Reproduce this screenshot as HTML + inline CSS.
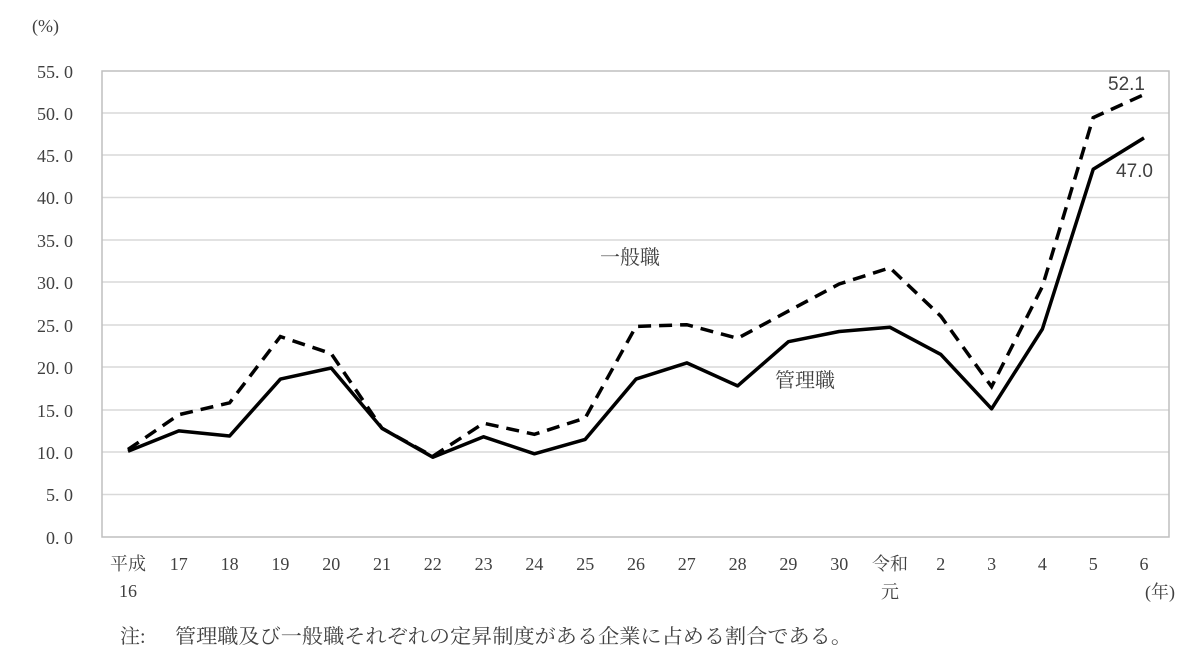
<!DOCTYPE html>
<html><head><meta charset="utf-8"><style>
body{margin:0;background:#fff;}
svg{display:block;}
.t{font-family:"Liberation Serif","Noto Serif CJK SC","Noto Sans CJK JP",serif;font-size:18px;fill:#404040;}
.c{font-family:"Liberation Serif","Noto Serif CJK SC","Noto Sans CJK JP",serif;font-size:20px;fill:#404040;}
.s{font-family:"Liberation Sans","Noto Sans CJK JP",sans-serif;font-size:19px;fill:#404040;}
</style></head><body>
<svg width="1201" height="666" viewBox="0 0 1201 666">
<g stroke="#d9d9d9" stroke-width="1.5">
<line x1="102" y1="113" x2="1169" y2="113"/><line x1="102" y1="155" x2="1169" y2="155"/>
<line x1="102" y1="197.5" x2="1169" y2="197.5"/><line x1="102" y1="240" x2="1169" y2="240"/>
<line x1="102" y1="282" x2="1169" y2="282"/><line x1="102" y1="325" x2="1169" y2="325"/>
<line x1="102" y1="367" x2="1169" y2="367"/><line x1="102" y1="410" x2="1169" y2="410"/>
<line x1="102" y1="452" x2="1169" y2="452"/><line x1="102" y1="494.5" x2="1169" y2="494.5"/>
</g>
<rect x="102" y="71" width="1067" height="466" fill="none" stroke="#bfbfbf" stroke-width="1.5"/>
<g class="t" text-anchor="end">
<text x="73" y="78">55. 0</text><text x="73" y="120">50. 0</text><text x="73" y="162">45. 0</text>
<text x="73" y="204">40. 0</text><text x="73" y="247">35. 0</text><text x="73" y="289">30. 0</text>
<text x="73" y="332">25. 0</text><text x="73" y="374">20. 0</text><text x="73" y="417">15. 0</text>
<text x="73" y="459">10. 0</text><text x="73" y="501">5. 0</text><text x="73" y="544">0. 0</text>
</g>
<text class="t" x="32" y="32">(%)</text>
<g class="t" text-anchor="middle">
<text x="128" y="570">平成</text><text x="128" y="597">16</text>
<text x="178.8" y="570">17</text><text x="229.6" y="570">18</text><text x="280.4" y="570">19</text>
<text x="331.2" y="570">20</text><text x="382" y="570">21</text><text x="432.8" y="570">22</text>
<text x="483.6" y="570">23</text><text x="534.4" y="570">24</text><text x="585.2" y="570">25</text>
<text x="636" y="570">26</text><text x="686.8" y="570">27</text><text x="737.6" y="570">28</text>
<text x="788.4" y="570">29</text><text x="839.2" y="570">30</text>
<text x="890" y="570">令和</text><text x="890" y="598">元</text>
<text x="940.8" y="570">2</text><text x="991.6" y="570">3</text><text x="1042.4" y="570">4</text>
<text x="1093.2" y="570">5</text><text x="1144" y="570">6</text>
<text x="1160" y="598">(年)</text>
</g>
<polyline fill="none" stroke="#000" stroke-width="3.5" stroke-linejoin="round" points="128,451.2 178.8,430.9 229.6,436 280.4,379.1 331.2,368 382,428.3 432.8,457.2 483.6,436.8 534.4,453.8 585.2,439.4 636,379.1 686.8,362.9 737.6,385.9 788.4,341.7 839.2,331.5 890,327.3 940.8,354.4 991.6,408.8 1042.4,329 1093.2,169.3 1144,137.9"/>
<polyline fill="none" stroke="#000" stroke-width="3.5" stroke-dasharray="13,8" points="128,449.5 178.8,414.7 229.6,402.8 280.4,336.6 331.2,353.6 382,428.3 432.8,456.3 483.6,423.2 534.4,434.3 585.2,418.1 636,326.4 686.8,324.7 737.6,338.3 788.4,311.1 839.2,284 890,267.8 940.8,316.2 991.6,386.7 1042.4,286.5 1093.2,117.6 1144,94.6"/>
<text class="s" x="1108" y="90">52.1</text>
<text class="s" x="1116" y="177">47.0</text>
<text class="c" x="600" y="264">一般職</text>
<text class="c" x="775" y="387">管理職</text>
<text class="c" x="120" y="643">注:</text>
<text class="c" x="175" y="643" textLength="677" lengthAdjust="spacingAndGlyphs">管理職及び一般職それぞれの定昇制度がある企業に占める割合である。</text>
</svg>
</body></html>
